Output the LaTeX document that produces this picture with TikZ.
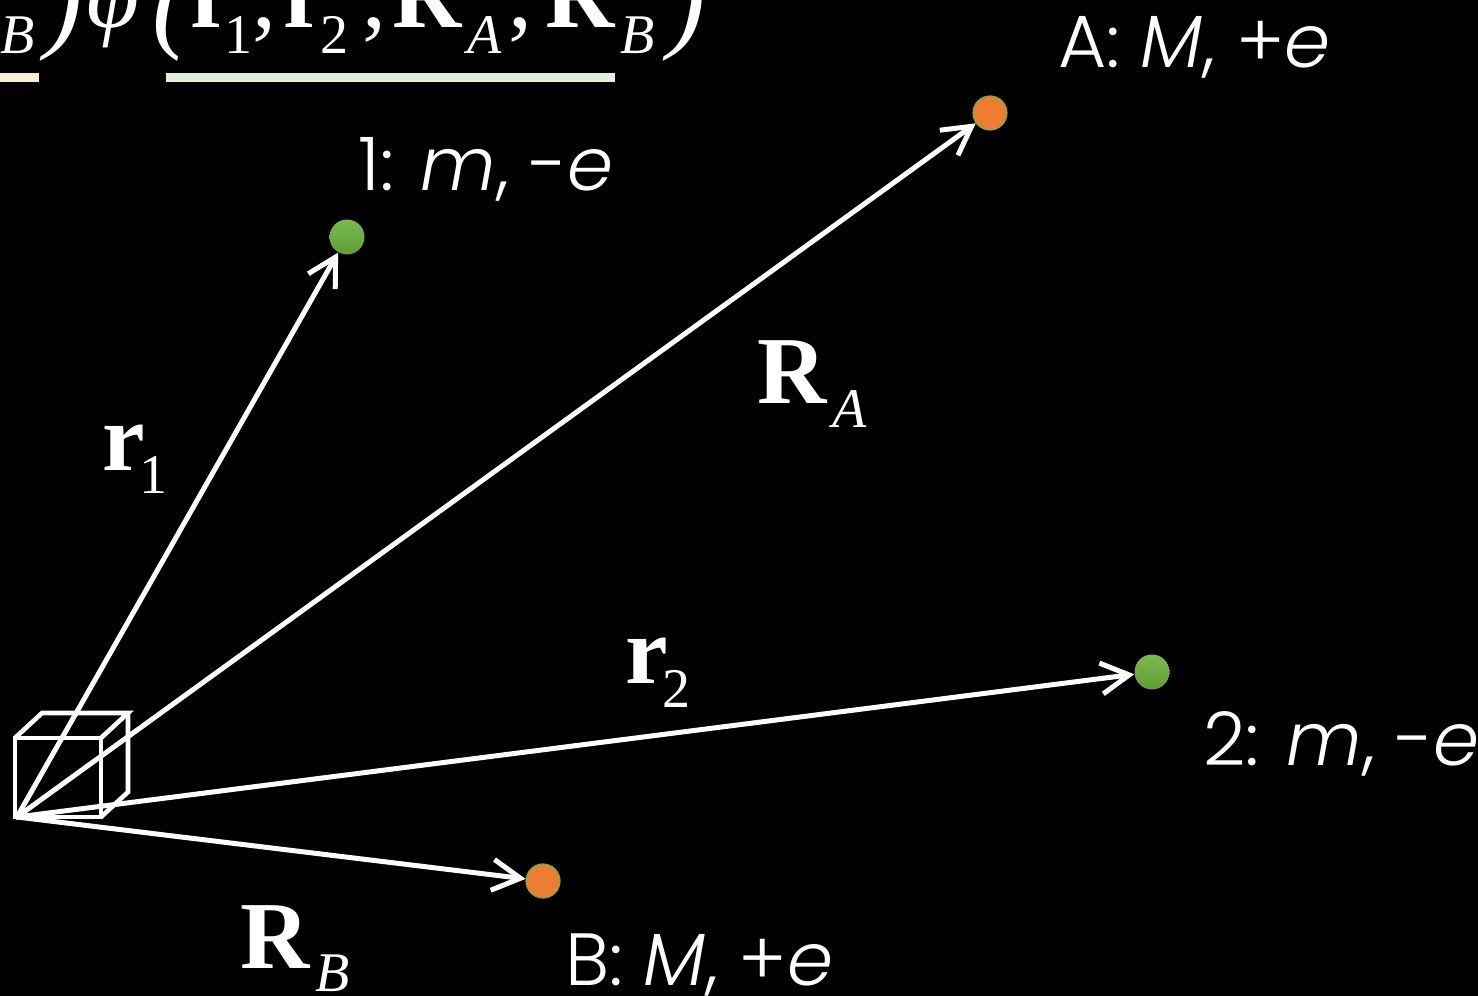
\documentclass[tikz,border=0pt]{standalone}
\usepackage{fontspec}
\usetikzlibrary{arrows.meta}
\IfFontExistsTF{Poppins Light}{\newfontfamily\lblfont{Poppins Light}[ItalicFont={Poppins Light Italic}]}{\newfontfamily\lblfont{Poppins}}
\newfontfamily\tmsfont{Liberation Serif}
\definecolor{dotgreen}{HTML}{70AD47}
\definecolor{dotgreenhi}{HTML}{7CB94F}
\definecolor{dotgreenlo}{HTML}{5F9E38}
\definecolor{dotorange}{HTML}{ED7D31}
\definecolor{ulbeige}{HTML}{FDEFCF}
\definecolor{ulgreen}{HTML}{E2EFDA}
\begin{document}
\begin{tikzpicture}[x=0.5pt,y=-0.5pt,
  vec/.style={white, line width=2.5pt, line cap=round, -{Straight Barb[length=14pt,width=15.5pt,line width=2.5pt]}},
  cubeline/.style={white, line width=2.3pt, line join=miter},
  gdot/.style={circle, inner sep=0pt, minimum size=17.5pt, top color=dotgreenhi, bottom color=dotgreenlo, draw=none},
  odot/.style={circle, inner sep=0pt, minimum size=17pt, fill=dotorange, draw=dotgreen, line width=0.6pt},
  lbl/.style={text=white, inner sep=0pt, anchor=base west, font=\lblfont\fontsize{37}{40}\selectfont},
  big/.style={text=white, inner sep=0pt, anchor=base west, font=\tmsfont\fontsize{48}{50}\selectfont},
  small/.style={text=white, inner sep=0pt, anchor=base west, font=\tmsfont\fontsize{28}{30}\selectfont},
  paren/.style={text=white, inner sep=0pt, anchor=base west, font=\tmsfont\itshape\fontsize{56}{58}\selectfont}
]
\fill[black] (0,0) rectangle (1478,996);
\clip (0,0) rectangle (1478,996);

% formula (cut at top)
\node[small] (fB0) at (0,53) {\itshape B};
\node[paren] (fp1) at (45,37) {)};
\node[big] (fphi) at (86,27) {\itshape φ};
\node[paren] (fp2) at (152,37) {(};
\node[big] (fr1) at (190,27) {\bfseries r};
\node[small] (fs1) at (224,53) {1};
\node[big] (fc1) at (252,27) {,};
\node[big] (fr2) at (283,27) {\bfseries r};
\node[small] (fs2) at (320,53) {2};
\node[big] (fc2) at (362,27) {,};
\node[big] (fRA) at (392,27) {\bfseries R};
\node[small] (fsA) at (467,53) {\itshape A};
\node[big] (fc3) at (508,27) {,};
\node[big] (fRB) at (545,27) {\bfseries R};
\node[small] (fsB) at (620,53) {\itshape B};
\node[paren] (fp3) at (668,37) {)};
\fill[ulbeige] (0,73) rectangle (39,82);
\fill[ulgreen] (166,73) rectangle (615,82);

% cube at origin
\coordinate (O) at (17,817);
\draw[cubeline] (15,738) rectangle (101,817);
\draw[cubeline] (15,738) -- (42,713) -- (128,713) -- (101,738);
\draw[cubeline] (128,713) -- (128,792) -- (101,817);

% particles
\node[gdot] (d1) at (347,237) {};
\node[odot] (dA) at (990,113) {};
\node[gdot] (d2) at (1152,672) {};
\node[odot] (dB) at (543,881) {};

% vectors
\draw[vec] (O) -- (d1);
\draw[vec] (O) -- (dA);
\draw[vec] (O) -- (d2);
\draw[vec] (O) -- (dB);

% particle labels
\node[lbl] (t1) at (358,190) {1: \textit{m}, -\textit{e}};
\node[lbl] (tA) at (1058,67) {A: \textit{M}, +\textit{e}};
\node[lbl] (t2) at (1203,765) {2: \textit{m}, -\textit{e}};
\node[lbl] (tB) at (565,985) {B: \textit{M}, +\textit{e}};

% vector labels
\node[big] (lRA) at (757,403) {\bfseries R};
\node[small] (lRAs) at (832,427) {\itshape A};
\node[big] (lr1) at (102,470) {\bfseries r};
\node[small] (lr1s) at (139,493) {1};
\node[big] (lr2) at (625,683) {\bfseries r};
\node[small] (lr2s) at (662,707) {2};
\node[big] (lRB) at (240,968) {\bfseries R};
\node[small] (lRBs) at (315,991) {\itshape B};
\end{tikzpicture}
\end{document}
